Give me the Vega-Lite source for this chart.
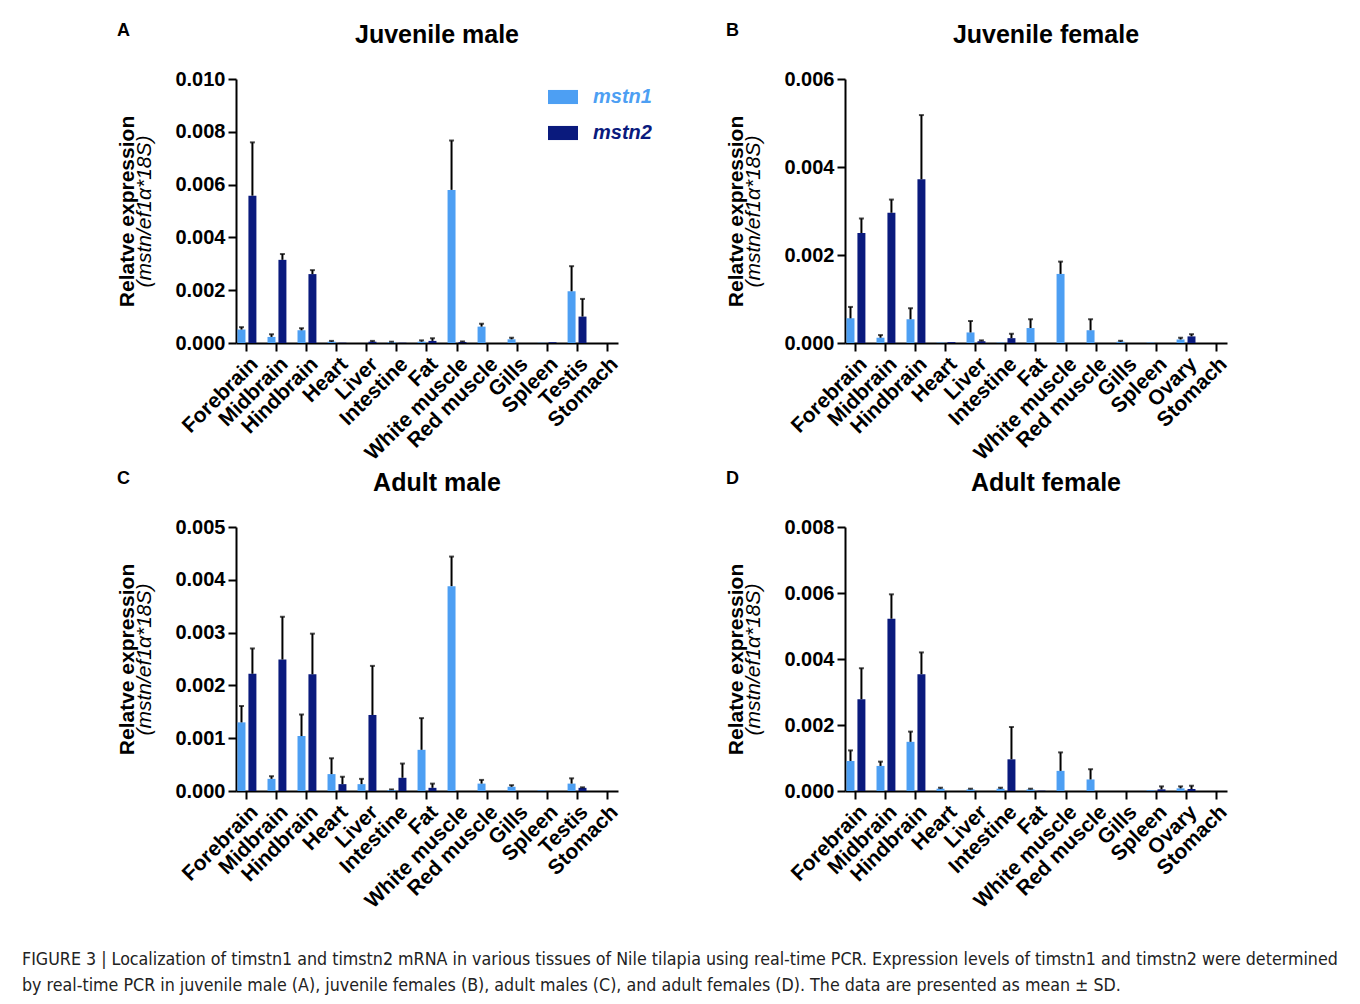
{
  "$schema": "https://vega.github.io/schema/vega-lite/v6.json",
  "background": "white",
  "padding": {"left": 22, "top": 22, "right": 5, "bottom": 5},
  "config": {
    "font": "Liberation Sans",
    "view": {"stroke": null},
    "axis": {
      "domainColor": "black", "domainWidth": 2, "tickColor": "black", "tickWidth": 2, "tickSize": 8,
      "labelFont": "Liberation Sans", "labelFontWeight": "bold", "labelColor": "black",
      "titleFont": "Liberation Sans", "titleFontSize": 21, "titleColor": "black", "grid": false
    },
    "axisX": {"labelFontSize": 21},
    "axisY": {"labelFontSize": 20},
    "title": {"font": "Liberation Sans", "color": "black"}
  },
  "datasets": {
    "jm": [
      {"tissue": "Forebrain", "gene": "mstn1", "mean": 0.00051, "upper": 0.00060},
      {"tissue": "Forebrain", "gene": "mstn2", "mean": 0.00558, "upper": 0.00760},
      {"tissue": "Midbrain", "gene": "mstn1", "mean": 0.00023, "upper": 0.00033},
      {"tissue": "Midbrain", "gene": "mstn2", "mean": 0.00315, "upper": 0.00337},
      {"tissue": "Hindbrain", "gene": "mstn1", "mean": 0.00048, "upper": 0.00056},
      {"tissue": "Hindbrain", "gene": "mstn2", "mean": 0.00261, "upper": 0.00276},
      {"tissue": "Heart", "gene": "mstn1", "mean": 0.00005, "upper": 0.00008},
      {"tissue": "Heart", "gene": "mstn2", "mean": 0.00001, "upper": 0},
      {"tissue": "Liver", "gene": "mstn1", "mean": 0, "upper": 0},
      {"tissue": "Liver", "gene": "mstn2", "mean": 0.00005, "upper": 0.00008},
      {"tissue": "Intestine", "gene": "mstn1", "mean": 0.00003, "upper": 0.00005},
      {"tissue": "Intestine", "gene": "mstn2", "mean": 0.00001, "upper": 0},
      {"tissue": "Fat", "gene": "mstn1", "mean": 0.00005, "upper": 0.00010},
      {"tissue": "Fat", "gene": "mstn2", "mean": 0.00008, "upper": 0.00018},
      {"tissue": "White muscle", "gene": "mstn1", "mean": 0.00580, "upper": 0.00767},
      {"tissue": "White muscle", "gene": "mstn2", "mean": 0.00004, "upper": 0.00006},
      {"tissue": "Red muscle", "gene": "mstn1", "mean": 0.00062, "upper": 0.00073},
      {"tissue": "Red muscle", "gene": "mstn2", "mean": 0, "upper": 0},
      {"tissue": "Gills", "gene": "mstn1", "mean": 0.00014, "upper": 0.00020},
      {"tissue": "Gills", "gene": "mstn2", "mean": 0, "upper": 0},
      {"tissue": "Spleen", "gene": "mstn1", "mean": 0.00001, "upper": 0},
      {"tissue": "Spleen", "gene": "mstn2", "mean": 0.00003, "upper": 0},
      {"tissue": "Testis", "gene": "mstn1", "mean": 0.00196, "upper": 0.00291},
      {"tissue": "Testis", "gene": "mstn2", "mean": 0.00100, "upper": 0.00167},
      {"tissue": "Stomach", "gene": "mstn1", "mean": 0, "upper": 0},
      {"tissue": "Stomach", "gene": "mstn2", "mean": 0, "upper": 0}
    ],
    "jf": [
      {"tissue": "Forebrain", "gene": "mstn1", "mean": 0.00056, "upper": 0.00082},
      {"tissue": "Forebrain", "gene": "mstn2", "mean": 0.00250, "upper": 0.00283},
      {"tissue": "Midbrain", "gene": "mstn1", "mean": 0.00012, "upper": 0.00018},
      {"tissue": "Midbrain", "gene": "mstn2", "mean": 0.00296, "upper": 0.00326},
      {"tissue": "Hindbrain", "gene": "mstn1", "mean": 0.00054, "upper": 0.00079},
      {"tissue": "Hindbrain", "gene": "mstn2", "mean": 0.00372, "upper": 0.00518},
      {"tissue": "Heart", "gene": "mstn1", "mean": 0.00001, "upper": 0},
      {"tissue": "Heart", "gene": "mstn2", "mean": 0.00002, "upper": 0},
      {"tissue": "Liver", "gene": "mstn1", "mean": 0.00024, "upper": 0.00050},
      {"tissue": "Liver", "gene": "mstn2", "mean": 0.00004, "upper": 0.00006},
      {"tissue": "Intestine", "gene": "mstn1", "mean": 0.00001, "upper": 0},
      {"tissue": "Intestine", "gene": "mstn2", "mean": 0.00011, "upper": 0.00021},
      {"tissue": "Fat", "gene": "mstn1", "mean": 0.00034, "upper": 0.00054},
      {"tissue": "Fat", "gene": "mstn2", "mean": 0, "upper": 0},
      {"tissue": "White muscle", "gene": "mstn1", "mean": 0.00157, "upper": 0.00185},
      {"tissue": "White muscle", "gene": "mstn2", "mean": 0, "upper": 0},
      {"tissue": "Red muscle", "gene": "mstn1", "mean": 0.00029, "upper": 0.00054},
      {"tissue": "Red muscle", "gene": "mstn2", "mean": 0, "upper": 0},
      {"tissue": "Gills", "gene": "mstn1", "mean": 0.00003, "upper": 0.00005},
      {"tissue": "Gills", "gene": "mstn2", "mean": 0, "upper": 0},
      {"tissue": "Spleen", "gene": "mstn1", "mean": 0.00001, "upper": 0},
      {"tissue": "Spleen", "gene": "mstn2", "mean": 0, "upper": 0},
      {"tissue": "Ovary", "gene": "mstn1", "mean": 0.00008, "upper": 0.00012},
      {"tissue": "Ovary", "gene": "mstn2", "mean": 0.00015, "upper": 0.00020},
      {"tissue": "Stomach", "gene": "mstn1", "mean": 0, "upper": 0},
      {"tissue": "Stomach", "gene": "mstn2", "mean": 0, "upper": 0}
    ],
    "am": [
      {"tissue": "Forebrain", "gene": "mstn1", "mean": 0.00130, "upper": 0.00161},
      {"tissue": "Forebrain", "gene": "mstn2", "mean": 0.00222, "upper": 0.00270},
      {"tissue": "Midbrain", "gene": "mstn1", "mean": 0.00023, "upper": 0.00028},
      {"tissue": "Midbrain", "gene": "mstn2", "mean": 0.00249, "upper": 0.00330},
      {"tissue": "Hindbrain", "gene": "mstn1", "mean": 0.00104, "upper": 0.00145},
      {"tissue": "Hindbrain", "gene": "mstn2", "mean": 0.00221, "upper": 0.00298},
      {"tissue": "Heart", "gene": "mstn1", "mean": 0.00032, "upper": 0.00062},
      {"tissue": "Heart", "gene": "mstn2", "mean": 0.00013, "upper": 0.00027},
      {"tissue": "Liver", "gene": "mstn1", "mean": 0.00013, "upper": 0.00023},
      {"tissue": "Liver", "gene": "mstn2", "mean": 0.00144, "upper": 0.00237},
      {"tissue": "Intestine", "gene": "mstn1", "mean": 0.00002, "upper": 0.00003},
      {"tissue": "Intestine", "gene": "mstn2", "mean": 0.00025, "upper": 0.00052},
      {"tissue": "Fat", "gene": "mstn1", "mean": 0.00078, "upper": 0.00138},
      {"tissue": "Fat", "gene": "mstn2", "mean": 0.00006, "upper": 0.00014},
      {"tissue": "White muscle", "gene": "mstn1", "mean": 0.00388, "upper": 0.00444},
      {"tissue": "White muscle", "gene": "mstn2", "mean": 0, "upper": 0},
      {"tissue": "Red muscle", "gene": "mstn1", "mean": 0.00014, "upper": 0.00021},
      {"tissue": "Red muscle", "gene": "mstn2", "mean": 0, "upper": 0},
      {"tissue": "Gills", "gene": "mstn1", "mean": 0.00008, "upper": 0.00011},
      {"tissue": "Gills", "gene": "mstn2", "mean": 0, "upper": 0},
      {"tissue": "Spleen", "gene": "mstn1", "mean": 0.00001, "upper": 0},
      {"tissue": "Spleen", "gene": "mstn2", "mean": 0, "upper": 0},
      {"tissue": "Testis", "gene": "mstn1", "mean": 0.00014, "upper": 0.00024},
      {"tissue": "Testis", "gene": "mstn2", "mean": 0.00006, "upper": 0.00007},
      {"tissue": "Stomach", "gene": "mstn1", "mean": 0, "upper": 0},
      {"tissue": "Stomach", "gene": "mstn2", "mean": 0, "upper": 0}
    ],
    "af": [
      {"tissue": "Forebrain", "gene": "mstn1", "mean": 0.00091, "upper": 0.00123},
      {"tissue": "Forebrain", "gene": "mstn2", "mean": 0.00278, "upper": 0.00372},
      {"tissue": "Midbrain", "gene": "mstn1", "mean": 0.00076, "upper": 0.00089},
      {"tissue": "Midbrain", "gene": "mstn2", "mean": 0.00522, "upper": 0.00596},
      {"tissue": "Hindbrain", "gene": "mstn1", "mean": 0.00149, "upper": 0.00180},
      {"tissue": "Hindbrain", "gene": "mstn2", "mean": 0.00354, "upper": 0.00420},
      {"tissue": "Heart", "gene": "mstn1", "mean": 0.00007, "upper": 0.00010},
      {"tissue": "Heart", "gene": "mstn2", "mean": 0, "upper": 0},
      {"tissue": "Liver", "gene": "mstn1", "mean": 0.00005, "upper": 0.00007},
      {"tissue": "Liver", "gene": "mstn2", "mean": 0, "upper": 0},
      {"tissue": "Intestine", "gene": "mstn1", "mean": 0.00007, "upper": 0.00010},
      {"tissue": "Intestine", "gene": "mstn2", "mean": 0.00096, "upper": 0.00194},
      {"tissue": "Fat", "gene": "mstn1", "mean": 0.00005, "upper": 0.00007},
      {"tissue": "Fat", "gene": "mstn2", "mean": 0.00001, "upper": 0},
      {"tissue": "White muscle", "gene": "mstn1", "mean": 0.00061, "upper": 0.00117},
      {"tissue": "White muscle", "gene": "mstn2", "mean": 0, "upper": 0},
      {"tissue": "Red muscle", "gene": "mstn1", "mean": 0.00035, "upper": 0.00066},
      {"tissue": "Red muscle", "gene": "mstn2", "mean": 0, "upper": 0},
      {"tissue": "Gills", "gene": "mstn1", "mean": 0, "upper": 0},
      {"tissue": "Gills", "gene": "mstn2", "mean": 0, "upper": 0},
      {"tissue": "Spleen", "gene": "mstn1", "mean": 0.00002, "upper": 0},
      {"tissue": "Spleen", "gene": "mstn2", "mean": 0.00005, "upper": 0.00014},
      {"tissue": "Ovary", "gene": "mstn1", "mean": 0.00008, "upper": 0.00014},
      {"tissue": "Ovary", "gene": "mstn2", "mean": 0.00006, "upper": 0.00016},
      {"tissue": "Stomach", "gene": "mstn1", "mean": 0, "upper": 0},
      {"tissue": "Stomach", "gene": "mstn2", "mean": 0, "upper": 0}
    ]
  },
  "title": {
    "text": [
      "FIGURE 3 | Localization of timstn1 and timstn2 mRNA in various tissues of Nile tilapia using real-time PCR. Expression levels of timstn1 and timstn2 were determined",
      "by real-time PCR in juvenile male (A), juvenile females (B), adult males (C), and adult females (D). The data are presented as mean ± SD."
    ],
    "orient": "bottom", "anchor": "start", "frame": "group", "dx": -214, "offset": 39,
    "font": "Liberation Sans Narrow, DejaVu Sans Condensed, sans-serif", "fontSize": 17.7, "fontWeight": "normal", "lineHeight": 26, "color": "#222"
  },
  "resolve": {"scale": {"color": "independent"}},
  "spacing": 6,
  "vconcat": [
    {
      "resolve": {"scale": {"color": "independent"}},
      "spacing": 73,
      "hconcat": [
        {
          "title": {"text": "A", "anchor": "start", "frame": "bounds", "fontSize": 18, "fontWeight": "bold", "offset": -17},
          "resolve": {"scale": {"color": "independent"}},
          "vconcat": [
            {
              "data": {"name": "jm"},
              "width": 382, "height": 264,
              "title": {"text": "Juvenile male", "fontSize": 25, "fontWeight": "bold", "anchor": "middle", "frame": "group", "dx": 10, "offset": 21},
              "resolve": {"axis": {"y": "independent"}},
              "layer": [
                {
                  "mark": {"type": "bar"},
                  "encoding": {
                    "x": {"field": "tissue", "type": "nominal", "scale": {"domain": ["Forebrain", "Midbrain", "Hindbrain", "Heart", "Liver", "Intestine", "Fat", "White muscle", "Red muscle", "Gills", "Spleen", "Testis", "Stomach"], "paddingInner": 0.37, "paddingOuter": 0.05}, "axis": {"title": null, "labelAngle": -45, "labelAlign": "right", "labelBaseline": "top", "labelPadding": 2}},
                    "xOffset": {"field": "gene", "type": "nominal", "scale": {"domain": ["mstn1", "mstn2"], "paddingInner": 0.27}},
                    "y": {"field": "mean", "type": "quantitative", "scale": {"domain": [0, 0.01], "nice": false}, "axis": {"title": "Relatve expression", "titleFontWeight": "bold", "values": [0, 0.002, 0.004, 0.006, 0.008, 0.01], "format": ".3f", "titlePadding": 37, "labelPadding": 3}},
                    "color": {"field": "gene", "type": "nominal", "scale": {"domain": ["mstn1", "mstn2"], "range": ["#4d9ff3", "#0a1a7d"]},
                      "legend": {"orient": "none", "legendX": 312, "legendY": 3, "title": null, "symbolType": "M-1,-0.47H1V0.47H-1Z", "symbolSize": 900, "symbolStrokeWidth": 0, "labelFontSize": 20, "labelFontStyle": "italic", "labelFontWeight": "bold", "labelColor": {"expr": "datum.value == 'mstn1' ? '#4d9ff3' : '#0a1a7d'"}, "labelOffset": 15, "rowPadding": 11}}
                  }
                },
                {
                  "transform": [{"filter": "datum.upper > 0"}],
                  "mark": {"type": "rule", "color": "black", "strokeWidth": 2},
                  "encoding": {
                    "x": {"field": "tissue", "type": "nominal", "scale": {"domain": ["Forebrain", "Midbrain", "Hindbrain", "Heart", "Liver", "Intestine", "Fat", "White muscle", "Red muscle", "Gills", "Spleen", "Testis", "Stomach"], "paddingInner": 0.37, "paddingOuter": 0.05}, "axis": {"title": null, "labelAngle": -45, "labelAlign": "right", "labelBaseline": "top", "labelPadding": 2}},
                    "xOffset": {"field": "gene", "type": "nominal", "scale": {"domain": ["mstn1", "mstn2"], "paddingInner": 0.27}},
                    "y": {"field": "mean", "type": "quantitative", "scale": {"domain": [0, 0.01], "nice": false}, "axis": {"title": "(mstn/ef1α*18S)", "orient": "left", "labels": false, "ticks": false, "domain": false, "titleFontStyle": "italic", "titleFontWeight": "normal", "titlePadding": 82}},
                    "y2": {"field": "upper"}
                  }
                },
                {
                  "transform": [{"filter": "datum.upper > 0"}],
                  "mark": {"type": "tick", "color": "black", "thickness": 2, "size": 5},
                  "encoding": {
                    "x": {"field": "tissue", "type": "nominal", "scale": {"domain": ["Forebrain", "Midbrain", "Hindbrain", "Heart", "Liver", "Intestine", "Fat", "White muscle", "Red muscle", "Gills", "Spleen", "Testis", "Stomach"], "paddingInner": 0.37, "paddingOuter": 0.05}, "axis": {"title": null, "labelAngle": -45, "labelAlign": "right", "labelBaseline": "top", "labelPadding": 2}},
                    "xOffset": {"field": "gene", "type": "nominal", "scale": {"domain": ["mstn1", "mstn2"], "paddingInner": 0.27}},
                    "y": {"field": "upper", "type": "quantitative", "scale": {"domain": [0, 0.01], "nice": false}, "axis": null}
                  }
                }
              ]
            }
          ]
        },
        {
          "title": {"text": "B", "anchor": "start", "frame": "bounds", "fontSize": 18, "fontWeight": "bold", "offset": -17},
          "resolve": {"scale": {"color": "independent"}},
          "vconcat": [
            {
              "data": {"name": "jf"},
              "width": 382, "height": 264,
              "title": {"text": "Juvenile female", "fontSize": 25, "fontWeight": "bold", "anchor": "middle", "frame": "group", "dx": 10, "offset": 21},
              "resolve": {"axis": {"y": "independent"}},
              "layer": [
                {
                  "mark": {"type": "bar"},
                  "encoding": {
                    "x": {"field": "tissue", "type": "nominal", "scale": {"domain": ["Forebrain", "Midbrain", "Hindbrain", "Heart", "Liver", "Intestine", "Fat", "White muscle", "Red muscle", "Gills", "Spleen", "Ovary", "Stomach"], "paddingInner": 0.37, "paddingOuter": 0.05}, "axis": {"title": null, "labelAngle": -45, "labelAlign": "right", "labelBaseline": "top", "labelPadding": 2}},
                    "xOffset": {"field": "gene", "type": "nominal", "scale": {"domain": ["mstn1", "mstn2"], "paddingInner": 0.27}},
                    "y": {"field": "mean", "type": "quantitative", "scale": {"domain": [0, 0.006], "nice": false}, "axis": {"title": "Relatve expression", "titleFontWeight": "bold", "values": [0, 0.002, 0.004, 0.006], "format": ".3f", "titlePadding": 37, "labelPadding": 3}},
                    "color": {"field": "gene", "type": "nominal", "scale": {"domain": ["mstn1", "mstn2"], "range": ["#4d9ff3", "#0a1a7d"]}, "legend": null}
                  }
                },
                {
                  "transform": [{"filter": "datum.upper > 0"}],
                  "mark": {"type": "rule", "color": "black", "strokeWidth": 2},
                  "encoding": {
                    "x": {"field": "tissue", "type": "nominal", "scale": {"domain": ["Forebrain", "Midbrain", "Hindbrain", "Heart", "Liver", "Intestine", "Fat", "White muscle", "Red muscle", "Gills", "Spleen", "Ovary", "Stomach"], "paddingInner": 0.37, "paddingOuter": 0.05}, "axis": {"title": null, "labelAngle": -45, "labelAlign": "right", "labelBaseline": "top", "labelPadding": 2}},
                    "xOffset": {"field": "gene", "type": "nominal", "scale": {"domain": ["mstn1", "mstn2"], "paddingInner": 0.27}},
                    "y": {"field": "mean", "type": "quantitative", "scale": {"domain": [0, 0.006], "nice": false}, "axis": {"title": "(mstn/ef1α*18S)", "orient": "left", "labels": false, "ticks": false, "domain": false, "titleFontStyle": "italic", "titleFontWeight": "normal", "titlePadding": 82}},
                    "y2": {"field": "upper"}
                  }
                },
                {
                  "transform": [{"filter": "datum.upper > 0"}],
                  "mark": {"type": "tick", "color": "black", "thickness": 2, "size": 5},
                  "encoding": {
                    "x": {"field": "tissue", "type": "nominal", "scale": {"domain": ["Forebrain", "Midbrain", "Hindbrain", "Heart", "Liver", "Intestine", "Fat", "White muscle", "Red muscle", "Gills", "Spleen", "Ovary", "Stomach"], "paddingInner": 0.37, "paddingOuter": 0.05}, "axis": {"title": null, "labelAngle": -45, "labelAlign": "right", "labelBaseline": "top", "labelPadding": 2}},
                    "xOffset": {"field": "gene", "type": "nominal", "scale": {"domain": ["mstn1", "mstn2"], "paddingInner": 0.27}},
                    "y": {"field": "upper", "type": "quantitative", "scale": {"domain": [0, 0.006], "nice": false}, "axis": null}
                  }
                }
              ]
            }
          ]
        }
      ]
    },
    {
      "resolve": {"scale": {"color": "independent"}},
      "spacing": 103,
      "hconcat": [
        {
          "title": {"text": "C", "anchor": "start", "frame": "bounds", "fontSize": 18, "fontWeight": "bold", "offset": -17},
          "resolve": {"scale": {"color": "independent"}},
          "vconcat": [
            {
              "data": {"name": "am"},
              "width": 382, "height": 264,
              "title": {"text": "Adult male", "fontSize": 25, "fontWeight": "bold", "anchor": "middle", "frame": "group", "dx": 10, "offset": 21},
              "resolve": {"axis": {"y": "independent"}},
              "layer": [
                {
                  "mark": {"type": "bar"},
                  "encoding": {
                    "x": {"field": "tissue", "type": "nominal", "scale": {"domain": ["Forebrain", "Midbrain", "Hindbrain", "Heart", "Liver", "Intestine", "Fat", "White muscle", "Red muscle", "Gills", "Spleen", "Testis", "Stomach"], "paddingInner": 0.37, "paddingOuter": 0.05}, "axis": {"title": null, "labelAngle": -45, "labelAlign": "right", "labelBaseline": "top", "labelPadding": 2}},
                    "xOffset": {"field": "gene", "type": "nominal", "scale": {"domain": ["mstn1", "mstn2"], "paddingInner": 0.27}},
                    "y": {"field": "mean", "type": "quantitative", "scale": {"domain": [0, 0.005], "nice": false}, "axis": {"title": "Relatve expression", "titleFontWeight": "bold", "values": [0, 0.001, 0.002, 0.003, 0.004, 0.005], "format": ".3f", "titlePadding": 37, "labelPadding": 3}},
                    "color": {"field": "gene", "type": "nominal", "scale": {"domain": ["mstn1", "mstn2"], "range": ["#4d9ff3", "#0a1a7d"]}, "legend": null}
                  }
                },
                {
                  "transform": [{"filter": "datum.upper > 0"}],
                  "mark": {"type": "rule", "color": "black", "strokeWidth": 2},
                  "encoding": {
                    "x": {"field": "tissue", "type": "nominal", "scale": {"domain": ["Forebrain", "Midbrain", "Hindbrain", "Heart", "Liver", "Intestine", "Fat", "White muscle", "Red muscle", "Gills", "Spleen", "Testis", "Stomach"], "paddingInner": 0.37, "paddingOuter": 0.05}, "axis": {"title": null, "labelAngle": -45, "labelAlign": "right", "labelBaseline": "top", "labelPadding": 2}},
                    "xOffset": {"field": "gene", "type": "nominal", "scale": {"domain": ["mstn1", "mstn2"], "paddingInner": 0.27}},
                    "y": {"field": "mean", "type": "quantitative", "scale": {"domain": [0, 0.005], "nice": false}, "axis": {"title": "(mstn/ef1α*18S)", "orient": "left", "labels": false, "ticks": false, "domain": false, "titleFontStyle": "italic", "titleFontWeight": "normal", "titlePadding": 82}},
                    "y2": {"field": "upper"}
                  }
                },
                {
                  "transform": [{"filter": "datum.upper > 0"}],
                  "mark": {"type": "tick", "color": "black", "thickness": 2, "size": 5},
                  "encoding": {
                    "x": {"field": "tissue", "type": "nominal", "scale": {"domain": ["Forebrain", "Midbrain", "Hindbrain", "Heart", "Liver", "Intestine", "Fat", "White muscle", "Red muscle", "Gills", "Spleen", "Testis", "Stomach"], "paddingInner": 0.37, "paddingOuter": 0.05}, "axis": {"title": null, "labelAngle": -45, "labelAlign": "right", "labelBaseline": "top", "labelPadding": 2}},
                    "xOffset": {"field": "gene", "type": "nominal", "scale": {"domain": ["mstn1", "mstn2"], "paddingInner": 0.27}},
                    "y": {"field": "upper", "type": "quantitative", "scale": {"domain": [0, 0.005], "nice": false}, "axis": null}
                  }
                }
              ]
            }
          ]
        },
        {
          "title": {"text": "D", "anchor": "start", "frame": "bounds", "fontSize": 18, "fontWeight": "bold", "offset": -17},
          "resolve": {"scale": {"color": "independent"}},
          "vconcat": [
            {
              "data": {"name": "af"},
              "width": 382, "height": 264,
              "title": {"text": "Adult female", "fontSize": 25, "fontWeight": "bold", "anchor": "middle", "frame": "group", "dx": 10, "offset": 21},
              "resolve": {"axis": {"y": "independent"}},
              "layer": [
                {
                  "mark": {"type": "bar"},
                  "encoding": {
                    "x": {"field": "tissue", "type": "nominal", "scale": {"domain": ["Forebrain", "Midbrain", "Hindbrain", "Heart", "Liver", "Intestine", "Fat", "White muscle", "Red muscle", "Gills", "Spleen", "Ovary", "Stomach"], "paddingInner": 0.37, "paddingOuter": 0.05}, "axis": {"title": null, "labelAngle": -45, "labelAlign": "right", "labelBaseline": "top", "labelPadding": 2}},
                    "xOffset": {"field": "gene", "type": "nominal", "scale": {"domain": ["mstn1", "mstn2"], "paddingInner": 0.27}},
                    "y": {"field": "mean", "type": "quantitative", "scale": {"domain": [0, 0.008], "nice": false}, "axis": {"title": "Relatve expression", "titleFontWeight": "bold", "values": [0, 0.002, 0.004, 0.006, 0.008], "format": ".3f", "titlePadding": 37, "labelPadding": 3}},
                    "color": {"field": "gene", "type": "nominal", "scale": {"domain": ["mstn1", "mstn2"], "range": ["#4d9ff3", "#0a1a7d"]}, "legend": null}
                  }
                },
                {
                  "transform": [{"filter": "datum.upper > 0"}],
                  "mark": {"type": "rule", "color": "black", "strokeWidth": 2},
                  "encoding": {
                    "x": {"field": "tissue", "type": "nominal", "scale": {"domain": ["Forebrain", "Midbrain", "Hindbrain", "Heart", "Liver", "Intestine", "Fat", "White muscle", "Red muscle", "Gills", "Spleen", "Ovary", "Stomach"], "paddingInner": 0.37, "paddingOuter": 0.05}, "axis": {"title": null, "labelAngle": -45, "labelAlign": "right", "labelBaseline": "top", "labelPadding": 2}},
                    "xOffset": {"field": "gene", "type": "nominal", "scale": {"domain": ["mstn1", "mstn2"], "paddingInner": 0.27}},
                    "y": {"field": "mean", "type": "quantitative", "scale": {"domain": [0, 0.008], "nice": false}, "axis": {"title": "(mstn/ef1α*18S)", "orient": "left", "labels": false, "ticks": false, "domain": false, "titleFontStyle": "italic", "titleFontWeight": "normal", "titlePadding": 82}},
                    "y2": {"field": "upper"}
                  }
                },
                {
                  "transform": [{"filter": "datum.upper > 0"}],
                  "mark": {"type": "tick", "color": "black", "thickness": 2, "size": 5},
                  "encoding": {
                    "x": {"field": "tissue", "type": "nominal", "scale": {"domain": ["Forebrain", "Midbrain", "Hindbrain", "Heart", "Liver", "Intestine", "Fat", "White muscle", "Red muscle", "Gills", "Spleen", "Ovary", "Stomach"], "paddingInner": 0.37, "paddingOuter": 0.05}, "axis": {"title": null, "labelAngle": -45, "labelAlign": "right", "labelBaseline": "top", "labelPadding": 2}},
                    "xOffset": {"field": "gene", "type": "nominal", "scale": {"domain": ["mstn1", "mstn2"], "paddingInner": 0.27}},
                    "y": {"field": "upper", "type": "quantitative", "scale": {"domain": [0, 0.008], "nice": false}, "axis": null}
                  }
                }
              ]
            }
          ]
        }
      ]
    }
  ]
}
